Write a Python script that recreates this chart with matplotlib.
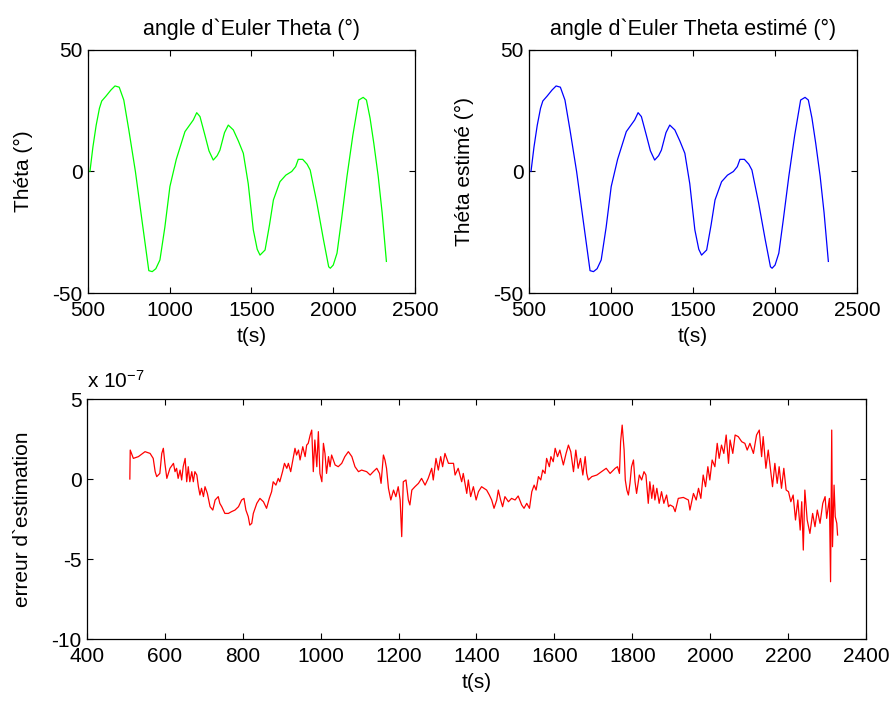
import matplotlib
matplotlib.use("Agg")
import matplotlib.pyplot as plt

plt.rcParams['font.family'] = ['Liberation Sans', 'DejaVu Sans']
plt.rcParams['axes.unicode_minus'] = False
plt.rcParams['mathtext.default'] = 'regular'

# Theta (degrees) vs time
t_theta = [512, 530, 550, 570, 584, 610, 640, 665, 691, 719, 750, 790, 830, 872, 893, 915, 940,
           970, 1001, 1040, 1093, 1144, 1165, 1185, 1215, 1240, 1266, 1290, 1307, 1335, 1358, 1389,
           1420, 1450, 1480, 1511, 1535, 1552, 1583, 1610, 1634, 1674, 1710, 1746, 1770, 1786, 1813,
           1840, 1859, 1900, 1940, 1972, 1982, 2000, 2023, 2050, 2084, 2120, 2156, 2183, 2203, 2225,
           2248, 2275, 2299, 2325]
theta = [0, 10, 19, 26, 29, 31, 33.5, 35.2, 34.7, 29.4, 17, 0, -20, -40.8, -41.2, -40, -36.4,
         -23, -6.2, 5, 16.4, 21.2, 24.2, 22.6, 15, 8.5, 4.7, 6.5, 8.8, 16, 19.1, 17.1,
         12.5, 7.5, -5, -24, -32, -34.4, -32.3, -22, -11.7, -4.2, -1.5, 0, 2, 5, 5,
         3, 0.6, -13, -28, -39.2, -39.8, -38.5, -33.6, -20, -2, 15, 29.4, 30.5, 29.4, 22,
         11.6, -2, -17, -37]
theta_est = list(theta)

# Estimation error (x 1e-7)
t_err = [510, 511, 519, 532, 549, 562, 570, 575, 579, 587, 592, 596, 600, 605, 613, 622, 626, 630,
         634, 639, 643, 647, 652, 656, 660, 664, 669, 673, 677, 682, 686, 690, 694, 699, 703, 709,
         716, 723, 729, 737, 741, 746, 754, 763, 771, 780, 789, 797, 803, 808, 814, 818, 823, 827,
         836, 844, 853, 861, 868, 874, 878, 885, 891, 895, 902, 907, 913, 917, 923, 930, 934, 938,
         943, 947, 954, 960, 964,
         968, 973, 977, 981, 985, 990, 994, 998, 1003, 1007, 1011, 1015, 1020, 1024, 1028, 1037,
         1045, 1054, 1062, 1071, 1080, 1088, 1097, 1105, 1118, 1127, 1135, 1144, 1151, 1155, 1161,
         1165, 1169, 1174, 1180, 1187, 1193, 1199, 1204, 1208, 1212, 1219, 1225, 1229, 1234, 1242,
         1251, 1259, 1268, 1276, 1285, 1289, 1296, 1302, 1308, 1313, 1319, 1328, 1341, 1345, 1353,
         1362, 1366, 1375, 1379, 1385, 1392, 1399, 1405, 1413, 1426, 1433,
         1439, 1445, 1452, 1456, 1462, 1467, 1473, 1482, 1490, 1499, 1507, 1516, 1522, 1529, 1536,
         1542, 1548, 1553, 1559, 1565, 1570, 1576, 1580, 1587, 1591, 1597, 1602, 1608, 1614, 1623,
         1630, 1636, 1642, 1649, 1655, 1661, 1667, 1673, 1679, 1683, 1687, 1696, 1709, 1721, 1733,
         1743, 1756, 1762, 1767, 1770, 1774, 1779, 1782, 1786, 1790, 1794, 1798, 1803, 1807, 1811,
         1818, 1824, 1830, 1835, 1841, 1845, 1850, 1854, 1858, 1863, 1869, 1875, 1881, 1888, 1893,
         1897, 1905, 1910, 1918, 1931, 1944, 1948, 1957, 1964, 1970, 1976, 1982, 1988, 1994, 1999,
         2005, 2012, 2018, 2023, 2029, 2035, 2041, 2047, 2051, 2058, 2064, 2072, 2081, 2089, 2095,
         2102, 2111, 2119, 2126, 2132, 2136, 2143, 2149, 2155, 2160, 2166, 2172, 2177, 2183, 2189,
         2195, 2201, 2207, 2213, 2219, 2225, 2231, 2235, 2239, 2243, 2249, 2256, 2263, 2269, 2275,
         2282, 2289, 2295, 2299, 2306, 2309, 2312, 2314, 2318, 2321, 2325, 2327]
err = [0.0, 1.81, 1.29, 1.40, 1.71, 1.60, 1.29, 0.46, 0.15, 0.35, 1.60, 1.92, 0.98, 0.04, 0.67,
       0.98, 0.46, 0.67, 0.04, 0.56, -0.06, 0.77, 1.29, -0.17, 0.77, -0.17, 0.46, -0.17, 0.46, 0.25,
       -0.48, -1.0, -0.58, -1.1, -0.48, -0.9, -1.73, -1.94, -1.31, -1.1, -1.52, -1.73, -2.15, -2.15,
       -2.04, -1.94, -1.73, -1.31, -1.21, -1.94, -2.35, -2.88, -2.77, -2.15, -1.52, -1.21, -1.42,
       -1.83, -1.21, -0.79, -0.17, -0.38, 0.04, -0.17, 0.46, 0.98, 0.67, 0.98, 0.46, 1.40, 1.92,
       1.50, 1.81, 1.19, 2.02, 1.40, 2.12,
       2.23, 2.75, 3.06, 0.46, 2.44, 0.77, 2.96, 0.35, -0.17, 2.23, 1.60, 0.35, 1.40, 0.77, 1.50,
       0.88, 0.77, 0.98, 1.40, 1.71, 1.40, 0.77, 0.46, 0.56, 0.46, 0.25, 0.46, 0.67, 0.35, -0.27,
       1.50, 1.19, 0.67, -0.58, -1.31, -0.69, -1.1, -0.48, -1.31, -3.6, -0.17, -0.06, -1.31, -1.62,
       -0.69, -0.48, -0.27, 0.04, -0.38, 0.04, 0.67, -0.06, 1.29, 0.56, 1.40, 0.77, 1.60, 0.98,
       0.98, 0.25, 0.67, -0.17, 0.35, -0.9, -0.06, -1.1, -0.48, -1.31, -0.79, -0.48, -0.69, -1.0,
       -1.31, -1.83, -1.31, -0.69, -1.31, -1.73, -1.1, -1.42, -1.21, -1.31, -1.06, -1.62, -1.83,
       -1.52, -1.83, -0.79, -0.38, -0.69, 0.15, -0.06, 0.56, 0.35, 1.29, 0.77, 1.40, 1.08, 1.92,
       1.40, 1.81, 0.88, 1.60, 2.12, 1.71, 0.46, 1.81, 0.67, 1.29, 0.25, 1.40, 0.35, -0.06, 0.15,
       0.25, 0.46, 0.67, 0.35, 0.67, 0.77, 0.35, 2.33, 3.37, 1.81, -0.06, -0.69, -1.0, -0.27, 0.77,
       1.19, -0.17, -0.9, 0.25, -0.06, 0.46, 0.25, -1.52, -0.17, -1.21, -0.38, -1.31, -0.58, -1.52,
       -0.79, -1.52, -1.0, -1.73,
       -1.62, -1.73, -2.04, -1.21, -1.15, -1.31, -1.94, -0.9, -1.31, -0.58, -1.21, 0.25, -0.48, 0.77,
       -0.06, 1.19, 0.77, 2.23, 1.29, 2.12, 1.60, 2.75, 0.98, 2.44, 1.60, 2.75, 2.65, 2.33, 2.23,
       1.81, 2.23, 1.60, 2.75, 3.06, 1.40, 2.65, 0.67, 1.81, 0.56, -0.48, 0.98, -0.27, 0.77, -0.58,
       0.67, -0.69, -0.79, -1.42, -1.0, -2.56, -1.31, -3.19, -1.42, -4.44, -0.69, -2.56, -3.4,
       -2.15, -2.98, -1.94, -2.77, -1.52, -1.1, -2.46, -1.21, -6.42, 3.06, -4.23, -0.38, -2.35,
       -2.77, -3.5]

title_left = "angle d`Euler Theta (°)"
title_right = "angle d`Euler Theta estimé (°)"
ylabel_left = "Théta (°)"
ylabel_right = "Théta estimé (°)"
ylabel_bottom = "erreur d`estimation"
xlabel = "t(s)"

fig = plt.figure(figsize=(8.95, 7.02), dpi=100)
ax1 = fig.add_axes([0.0983, 0.5826, 0.3654, 0.3462])
ax2 = fig.add_axes([0.5911, 0.5826, 0.3665, 0.3462])
ax3 = fig.add_axes([0.0972, 0.0897, 0.8704, 0.3419])

FS = 15

def style(ax):
    ax.tick_params(direction='in', top=True, right=True, length=4, width=0.8,
                   labelsize=FS)
    ax.tick_params(axis='x', pad=6)
    ax.tick_params(axis='y', pad=4)
    for s in ax.spines.values():
        s.set_linewidth(0.9)

ax1.plot(t_theta, theta, color=(0, 1, 0), lw=0.9)
ax2.plot(t_theta, theta_est, color=(0, 0, 1), lw=0.9)
for ax, ttl, yl in [(ax1, title_left, ylabel_left), (ax2, title_right, ylabel_right)]:
    ax.set_xlim(500, 2500)
    ax.set_ylim(-50, 50)
    ax.set_xticks([500, 1000, 1500, 2000, 2500])
    ax.set_yticks([-50, 0, 50])
    ax.set_title(ttl, fontsize=15.5, pad=11)
    ax.set_ylabel(yl, fontsize=FS, labelpad=14)
    ax.set_xlabel(xlabel, fontsize=FS, labelpad=5)
    style(ax)

ax3.plot(t_err, err, color=(1, 0, 0), lw=0.9)
ax3.set_xlim(400, 2400)
ax3.set_ylim(-10, 5)
ax3.set_xticks(list(range(400, 2401, 200)))
ax3.set_yticks([-10, -5, 0, 5])
ax3.set_ylabel(ylabel_bottom, fontsize=FS, labelpad=14)
ax3.set_xlabel(xlabel, fontsize=FS, labelpad=5)
style(ax3)
ax3.text(0.0, 1.03, r"x 10$^{-7}$", transform=ax3.transAxes, fontsize=FS, ha='left', va='bottom')

fig.savefig("out.png", dpi=100)
